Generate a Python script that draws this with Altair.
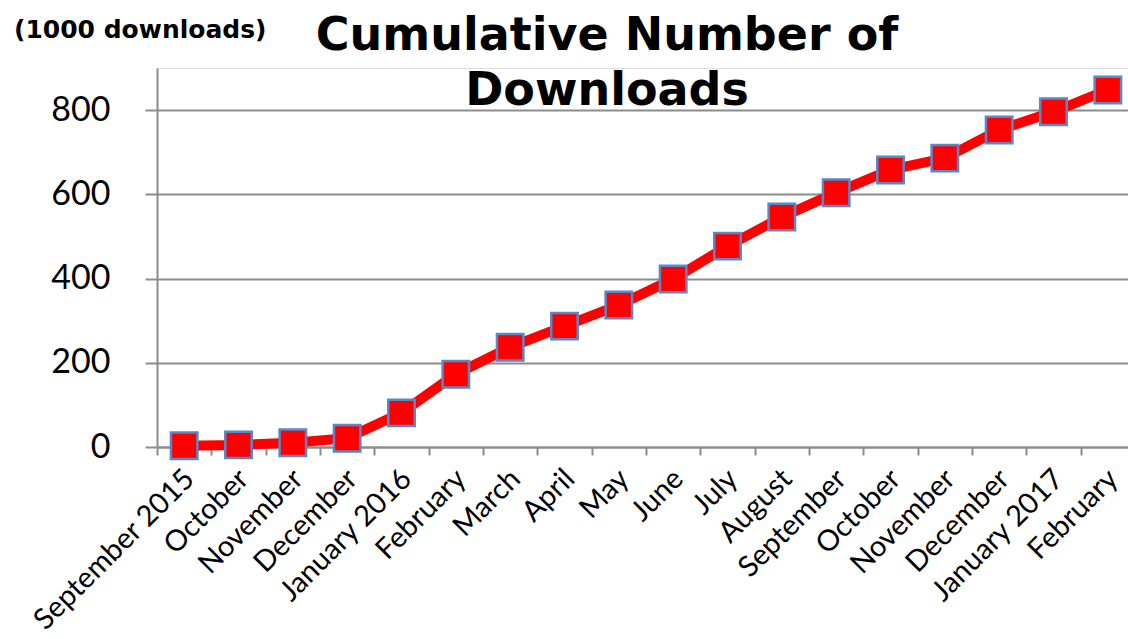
import json
import altair as alt
import pandas as pd

month_labels = ["September 2015", "October", "November", "December", "January 2016",
                "February", "March", "April", "May", "June", "July", "August",
                "September", "October", "November", "December", "January 2017", "February"]
downloads = [3, 5, 10, 21, 81, 173, 237, 287, 337, 399, 477, 546, 604, 658, 686, 753, 796, 848]
y_ticks = [0, 200, 400, 600, 800]
title_lines = ["Cumulative Number of", "Downloads"]
unit_label = "(1000 downloads)"

df = pd.DataFrame({"idx": list(range(len(month_labels))), "month": month_labels, "downloads": downloads})
label_expr = json.dumps(month_labels) + "[datum.value]"

GRAY = "#8c8c8c"

x = alt.X("idx:O",
          scale=alt.Scale(type="band", paddingInner=0, paddingOuter=0, range=[0, 978]),
          axis=alt.Axis(title=None, labelExpr=label_expr, labelAngle=-45, labelFont="Lato",
                        labelFontSize=29, labelColor="black", tickBand="extent", tickSize=8,
                        tickColor=GRAY, tickWidth=2, domainColor=GRAY, domainWidth=2,
                        labelPadding=9, labelOffset=-5, labelLimit=1000, labelOverlap=False,
                        grid=False))
y = alt.Y("downloads:Q",
          scale=alt.Scale(domain=[0, 900], nice=False),
          axis=alt.Axis(title=None, values=y_ticks, labelFont="Lato", labelFontSize=34,
                        labelColor="black", tickSize=12, labelPadding=35, tickColor=GRAY,
                        tickWidth=2, domainColor=GRAY, domainWidth=2, gridColor=GRAY,
                        gridWidth=2))

base = alt.Chart(df).encode(x=x, y=y)
line = base.mark_line(color="#FF0000", strokeWidth=10)
points = base.mark_square(size=700, color="#FF0000", fill="#FF0000", stroke="#5A87C6",
                          strokeWidth=2.5, opacity=1)

one = pd.DataFrame({"a": [0]})
title = alt.Chart(one).mark_text(text=title_lines, font="DejaVu Sans", fontWeight="bold",
                                 fontSize=46, align="center", baseline="alphabetic",
                                 lineHeight=55, color="black").encode(
    x=alt.value(450), y=alt.value(-18))
unit = alt.Chart(one).mark_text(text=unit_label, font="DejaVu Sans", fontWeight="bold",
                                fontSize=25, align="left", baseline="alphabetic",
                                color="black").encode(
    x=alt.value(-143), y=alt.value(-30))

chart = alt.layer(line, points, title, unit).properties(
    width=971, height=379,
    autosize=alt.AutoSizeParams(type="none"),
    padding={"left": 157, "top": 68, "right": 0, "bottom": 192},
).configure_view(stroke=None).configure(background="white")

chart.save("out.html", embed_options={"renderer": "svg", "actions": False})
